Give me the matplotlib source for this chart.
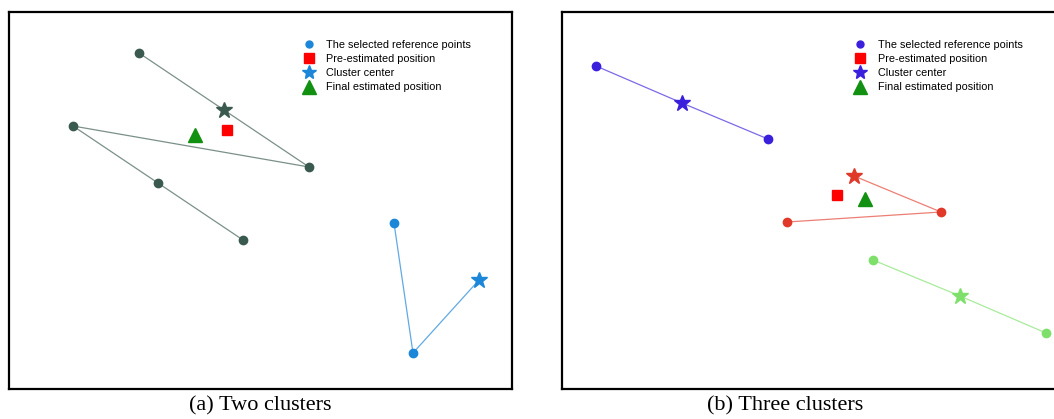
import matplotlib.pyplot as plt
from matplotlib.lines import Line2D

W, H = 1054, 419

# point positions (pixel-like units, y grows downwards)
# (a) two clusters
a1_x = [139, 224, 309, 73, 158, 243]
a1_y = [53, 110, 167, 126, 183, 240]
a1_m = ['o', '*', 'o', 'o', 'o', 'o']
a2_x = [394, 413, 479]
a2_y = [223, 353, 280]
a2_m = ['o', 'o', '*']
a_pre = (227, 130)
a_final = (195, 135)

# (b) three clusters
b1_x = [596, 682, 768]
b1_y = [66, 103, 139]
b1_m = ['o', '*', 'o']
b2_x = [854, 941, 787]
b2_y = [176, 212, 222]
b2_m = ['*', 'o', 'o']
b3_x = [873, 960, 1046]
b3_y = [260, 296, 333]
b3_m = ['o', '*', 'o']
b_pre = (837, 195)
b_final = (865, 199)

legend_labels = ['The selected reference points', 'Pre-estimated position',
                 'Cluster center', 'Final estimated position']

fig = plt.figure(figsize=(W / 100, H / 100), dpi=100)


def make_ax(x0, x1, y0, y1):
    ax = fig.add_axes([x0 / W, 1 - y1 / H, (x1 - x0) / W, (y1 - y0) / H])
    ax.set_xlim(x0, x1)
    ax.set_ylim(y1, y0)
    ax.set_xticks([])
    ax.set_yticks([])
    for s in ax.spines.values():
        s.set_linewidth(1.6)
    return ax


def cluster(ax, xs, ys, ms, col, lcol):
    ax.plot(xs, ys, '-', color=lcol, lw=0.9, zorder=1)
    for x, y, m in zip(xs, ys, ms):
        size = 12 if m == '*' else 6
        ax.plot(x, y, m, color=col, ms=size, mec=col, zorder=3)


def legend(ax, ccol, x, y):
    handles = [
        Line2D([], [], ls='', marker='o', color=ccol, ms=5),
        Line2D([], [], ls='', marker='s', color='#ff0000', ms=7),
        Line2D([], [], ls='', marker='*', color=ccol, ms=10),
        Line2D([], [], ls='', marker='^', color='#119011', ms=10),
    ]
    ax.legend(handles, legend_labels, loc='upper left',
              bbox_to_anchor=(x / W, 1 - y / H), bbox_transform=fig.transFigure,
              frameon=False, handlelength=1.0, handletextpad=1.1,
              labelspacing=0.4, borderpad=0, borderaxespad=0,
              prop={'family': 'Liberation Sans', 'size': 7.8})


ax1 = make_ax(9, 512, 12, 389)
cluster(ax1, a1_x, a1_y, a1_m, '#3b5a4f', '#7b9088')
cluster(ax1, a2_x, a2_y, a2_m, '#1c86d9', '#62a9e4')
ax1.plot(*a_pre, 's', color='#ff0000', ms=7, zorder=4)
ax1.plot(*a_final, '^', color='#119011', ms=10, zorder=4)
legend(ax1, '#1c86d9', 303.5, 39.5)

ax2 = make_ax(562, 1062, 12, 389)
cluster(ax2, b1_x, b1_y, b1_m, '#3a1fdc', '#7a6ae6')
cluster(ax2, b2_x, b2_y, b2_m, '#e0392a', '#ec7f74')
cluster(ax2, b3_x, b3_y, b3_m, '#7ee06a', '#a8eb9b')
ax2.plot(*b_pre, 's', color='#ff0000', ms=7, zorder=4)
ax2.plot(*b_final, '^', color='#119011', ms=10, zorder=4)
legend(ax2, '#3a1fdc', 855, 39.5)

fig.text(260 / W, 1 - 406 / H, '(a) Two clusters', ha='center', va='center',
         family='Liberation Serif', fontsize=16)
fig.text(785 / W, 1 - 406 / H, '(b) Three clusters', ha='center', va='center',
         family='Liberation Serif', fontsize=16)

fig.savefig('out.png', dpi=100)
